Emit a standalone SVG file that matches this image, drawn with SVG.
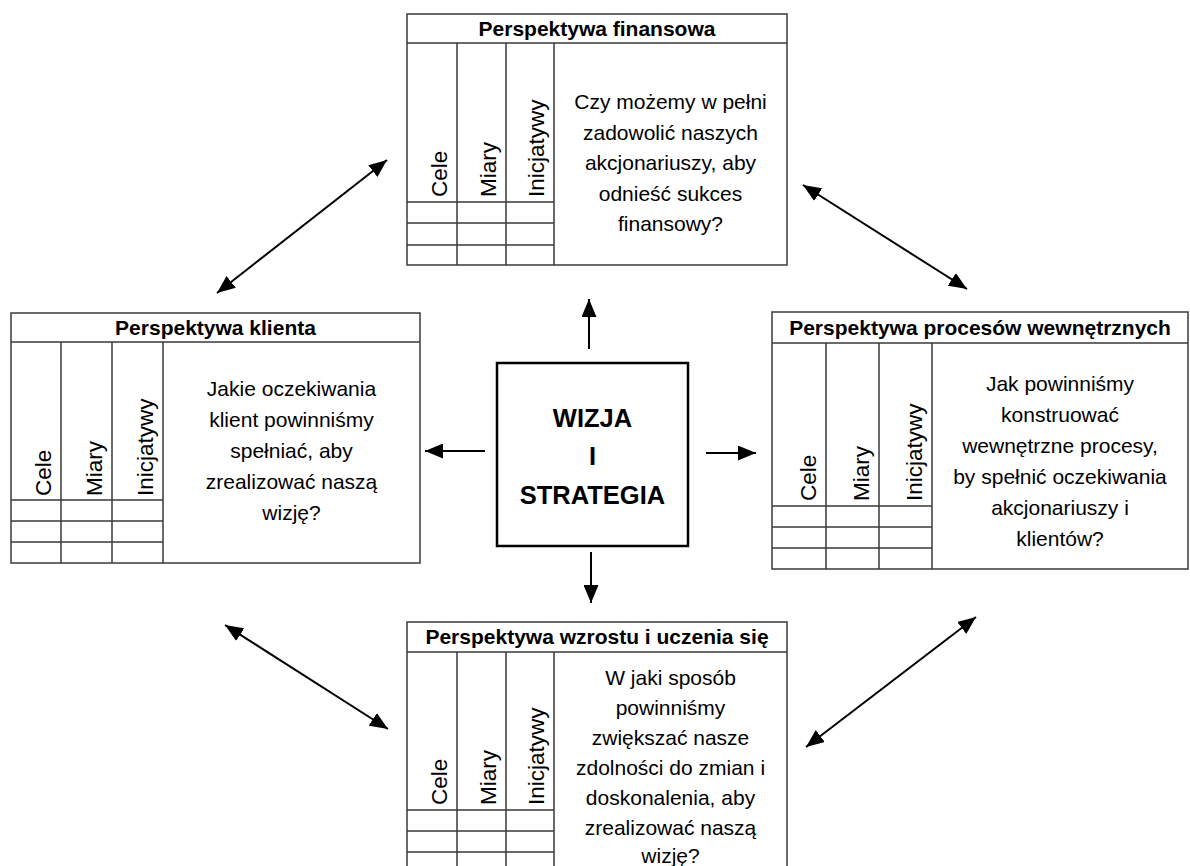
<svg xmlns="http://www.w3.org/2000/svg" width="1190" height="866" viewBox="0 0 1190 866">
  <style>
    .frame { fill: #ffffff; stroke: #3a3a3a; stroke-width: 1.5; }
    .grid { stroke: #3a3a3a; stroke-width: 1.5; fill: none; }
    .head { font-family: "Liberation Sans", Arial, sans-serif; font-weight: bold; font-size: 21px; fill: #000; text-anchor: middle; }
    .body { font-family: "Liberation Sans", Arial, sans-serif; font-size: 21px; fill: #000; text-anchor: middle; }
    .col { font-family: "Liberation Sans", Arial, sans-serif; font-size: 22.5px; fill: #000; text-anchor: start; }
    .core { fill: #ffffff; stroke: #000; stroke-width: 2.5; }
    .coretxt { font-family: "Liberation Sans", Arial, sans-serif; font-weight: bold; font-size: 25.5px; fill: #000; text-anchor: middle; }
    .arrow { stroke: #000; stroke-width: 2; fill: none; marker-end: url(#head); }
    .both { marker-start: url(#head); }
  </style>
  <defs>
    <!-- solid triangular arrowhead, reused at both ends of the double arrows -->
    <marker id="head" viewBox="0 0 18 15" refX="18" refY="7.5" markerWidth="18" markerHeight="15" markerUnits="userSpaceOnUse" orient="auto-start-reverse">
      <path d="M0,0 L18,7.5 L0,15 z" fill="#000"/>
    </marker>
  </defs>
  <rect width="1190" height="866" fill="#ffffff"/>

  <!-- financial perspective -->
  <g id="finansowa">
    <rect class="frame" x="407" y="14" width="380" height="251"/>
    <path class="grid" d="M407,43 H787 M457,43 V265 M506,43 V265 M554,43 V265 M407,202 H554 M407,223 H554 M407,245 H554"/>
    <text class="head" x="597" y="36">Perspektywa finansowa</text>
    <text class="col" transform="translate(447,197) rotate(-90)">Cele</text>
    <text class="col" transform="translate(496,197) rotate(-90)">Miary</text>
    <text class="col" transform="translate(544,197) rotate(-90)">Inicjatywy</text>
    <text class="body" x="670.5" y="109">Czy możemy w pełni</text>
    <text class="body" x="670.5" y="139.5">zadowolić naszych</text>
    <text class="body" x="670.5" y="170">akcjonariuszy, aby</text>
    <text class="body" x="670.5" y="200.5">odnieść sukces</text>
    <text class="body" x="670.5" y="231">finansowy?</text>
  </g>

  <!-- customer perspective -->
  <g id="klienta">
    <rect class="frame" x="11" y="313" width="409" height="250"/>
    <path class="grid" d="M11,342 H420 M61,342 V563 M112,342 V563 M163,342 V563 M11,500 H163 M11,521 H163 M11,542 H163"/>
    <text class="head" x="215.5" y="335">Perspektywa klienta</text>
    <text class="col" transform="translate(51,496) rotate(-90)">Cele</text>
    <text class="col" transform="translate(102,496) rotate(-90)">Miary</text>
    <text class="col" transform="translate(153,496) rotate(-90)">Inicjatywy</text>
    <text class="body" x="291.5" y="396">Jakie oczekiwania</text>
    <text class="body" x="291.5" y="427">klient powinniśmy</text>
    <text class="body" x="291.5" y="458">spełniać, aby</text>
    <text class="body" x="291.5" y="489">zrealizować naszą</text>
    <text class="body" x="291.5" y="520">wizję?</text>
  </g>

  <!-- internal process perspective -->
  <g id="procesy">
    <rect class="frame" x="772" y="312" width="416" height="257"/>
    <path class="grid" d="M772,343 H1188 M826,343 V569 M879,343 V569 M932,343 V569 M772,506 H932 M772,527 H932 M772,548 H932"/>
    <text class="head" x="980" y="335">Perspektywa procesów wewnętrznych</text>
    <text class="col" transform="translate(816,501) rotate(-90)">Cele</text>
    <text class="col" transform="translate(869,501) rotate(-90)">Miary</text>
    <text class="col" transform="translate(922,501) rotate(-90)">Inicjatywy</text>
    <text class="body" x="1060" y="391">Jak powinniśmy</text>
    <text class="body" x="1060" y="422">konstruować</text>
    <text class="body" x="1060" y="453">wewnętrzne procesy,</text>
    <text class="body" x="1060" y="484">by spełnić oczekiwania</text>
    <text class="body" x="1060" y="515">akcjonariuszy i</text>
    <text class="body" x="1060" y="546">klientów?</text>
  </g>

  <!-- learning and growth perspective -->
  <g id="rozwoj">
    <rect class="frame" x="407" y="622" width="380" height="260"/>
    <path class="grid" d="M407,652 H787 M457,652 V882 M506,652 V882 M554,652 V882 M407,810 H554 M407,831 H554 M407,852 H554"/>
    <text class="head" x="597" y="644">Perspektywa wzrostu i uczenia się</text>
    <text class="col" transform="translate(447,805) rotate(-90)">Cele</text>
    <text class="col" transform="translate(496,805) rotate(-90)">Miary</text>
    <text class="col" transform="translate(544,805) rotate(-90)">Inicjatywy</text>
    <text class="body" x="670.5" y="685">W jaki sposób</text>
    <text class="body" x="670.5" y="715">powinniśmy</text>
    <text class="body" x="670.5" y="745">zwiększać nasze</text>
    <text class="body" x="670.5" y="775">zdolności do zmian i</text>
    <text class="body" x="670.5" y="805">doskonalenia, aby</text>
    <text class="body" x="670.5" y="835">zrealizować naszą</text>
    <text class="body" x="670.5" y="863">wizję?</text>
  </g>

  <!-- vision and strategy -->
  <g id="wizja">
    <rect class="core" x="497" y="363" width="191" height="183"/>
    <text class="coretxt" x="592.5" y="427">WIZJA</text>
    <text class="coretxt" x="592.5" y="465">I</text>
    <text class="coretxt" x="592.5" y="504">STRATEGIA</text>
  </g>

  <!-- connectors -->
  <g id="connectors">
    <line class="arrow" x1="589" y1="349" x2="589" y2="299"/>
    <line class="arrow" x1="485" y1="451" x2="425" y2="451"/>
    <line class="arrow" x1="706" y1="453" x2="756" y2="453"/>
    <line class="arrow" x1="591" y1="552" x2="591" y2="603"/>
    <line class="arrow both" x1="217" y1="293" x2="387" y2="160"/>
    <line class="arrow both" x1="803" y1="185" x2="967" y2="289"/>
    <line class="arrow both" x1="225" y1="625" x2="388" y2="729"/>
    <line class="arrow both" x1="976" y1="617" x2="806" y2="747"/>
  </g>
</svg>
